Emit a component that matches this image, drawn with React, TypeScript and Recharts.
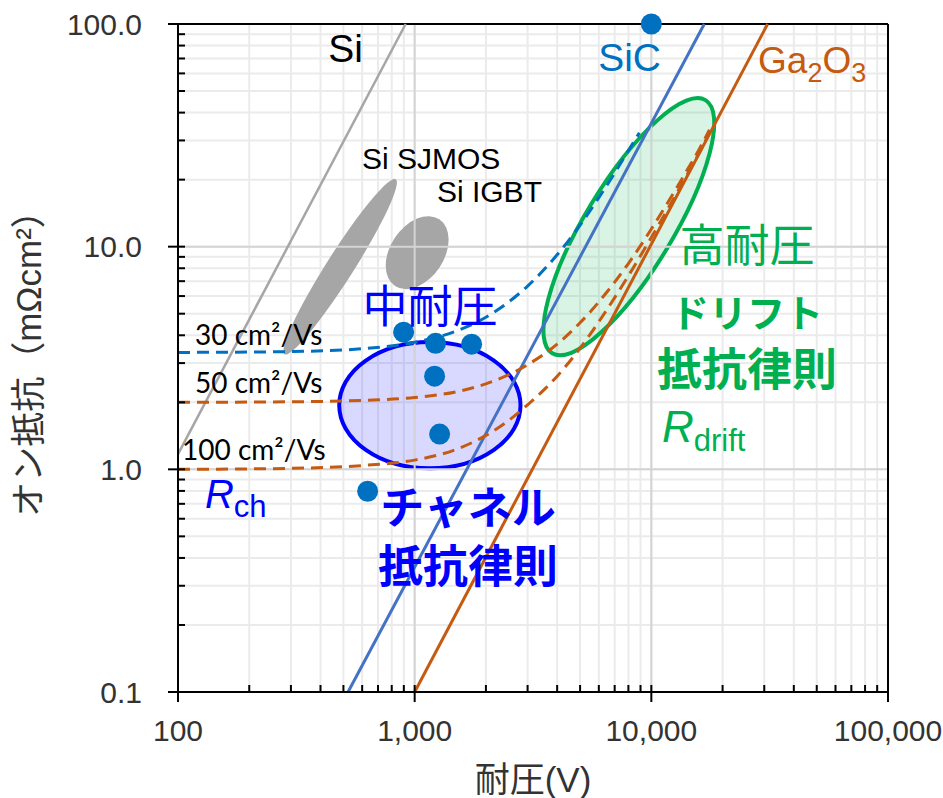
import React from 'react';
import {
  ComposedChart,
  Line,
  Scatter,
  XAxis,
  YAxis,
  CartesianGrid,
  ReferenceLine,
  ReferenceArea,
  ReferenceDot,
} from 'recharts';

// axis ticks (log decades with minor steps)
const xTicks = [
  100, 200, 300, 400, 500, 600, 700, 800, 900,
  1000, 2000, 3000, 4000, 5000, 6000, 7000, 8000, 9000,
  10000, 20000, 30000, 40000, 50000, 60000, 70000, 80000, 90000,
  100000,
];
const yTicks = [
  0.1, 0.2, 0.3, 0.4, 0.5, 0.6, 0.7, 0.8, 0.9,
  1, 2, 3, 4, 5, 6, 7, 8, 9,
  10, 20, 30, 40, 50, 60, 70, 80, 90,
  100,
];
const xMajor = [100, 1000, 10000, 100000];
const yMajor = [0.1, 1, 10, 100];
const yTickLabels = ['0.1', '1.0', '10.0', '100.0'];

// material limit lines (breakdown voltage V, on-resistance mΩcm²)
const siV = [100, 916];
const siR = [1.17, 100];
const sicV = [523, 16740];
const sicR = [0.1, 100];
const gaV = [1000, 31000];
const gaR = [0.1, 100];

// channel + drift curves
const mu30V = [100, 300, 600, 1000, 1500, 2000, 2500, 3000, 4000, 5000, 6000, 7000, 8000, 8900];
const mu30R = [3.35, 3.38, 3.48, 3.72, 4.18, 4.82, 5.65, 6.65, 9.2, 12.5, 16.6, 21.4, 27, 32.5];
const mu50V = [100, 300, 600, 1000, 1500, 2000, 2500, 3000, 4000, 5000, 6000, 8000, 10000, 12000, 14000, 16000, 17600];
const mu50R = [2.0, 2.01, 2.04, 2.1, 2.23, 2.42, 2.66, 2.95, 3.65, 4.55, 5.65, 8.4, 12, 16.4, 21.6, 27.6, 33.5];
const mu100V = [100, 300, 600, 1000, 1500, 2000, 2500, 3000, 4000, 5000, 6000, 8000, 10000, 12000, 14000, 16000, 17600];
const mu100R = [1.0, 1.01, 1.04, 1.1, 1.23, 1.42, 1.66, 1.95, 2.62, 3.5, 4.6, 7.4, 11, 15.4, 20.6, 26.6, 32.5];

// reported devices
const devV = [10000, 898, 1226, 1740, 1214, 1275, 633];
const devR = [100, 4.13, 3.68, 3.65, 2.62, 1.44, 0.797];

// regions: [V1, R1, V2, R2]
const sjmosBox = [282, 3.29, 832, 20.1];
const igbtBox = [826, 6.66, 1271, 13.27];
const midBox = [480, 1.01, 2800, 3.73];
const highBox = [3810, 3.32, 16940, 45.5];

// annotation anchors [V, R]
const posSi = [431, 67.5];
const posSJ = [599, 22.3];
const posIGBT = [1242, 15.9];
const posSiC = [5960, 61.5];
const posGa = [28240, 60.2];
const posMid = [1161, 5.58];
const posHigh1 = [25350, 10.4];
const posHigh2 = [25350, 5.19];
const posHigh3 = [25350, 2.91];
const posRdrift = [11090, 1.33];
const posCh1 = [1679, 0.691];
const posCh2 = [1679, 0.376];
const posRch = [130, 0.67];
const pos30 = [118, 3.62];
const pos50 = [118, 2.2];
const pos100 = [104, 1.1];

const toPts = (vs: number[], rs: number[]) => vs.map((v, i) => ({ v, r: rs[i] }));

const SANS = "'Liberation Sans', Arial, sans-serif";
const CJK = "'Noto Sans CJK JP', 'Noto Sans CJK SC', sans-serif";
const MIXED = "'Liberation Sans', Arial, 'Noto Sans CJK JP', sans-serif";
const NOTE = "Lato, 'Noto Sans', sans-serif";

const BLUE = '#0000FF';
const GREEN = '#00B050';
const DOT = '#0070C0';
const ORANGE = '#C55A11';

const XTick = (props: any) => {
  const { x, y, payload } = props;
  const v = payload.value;
  const major = xMajor.includes(v);
  return (
    <g>
      <line x1={x} x2={x} y1={y - 7} y2={major ? y + 10 : y} stroke="#000" strokeWidth={2} />
      {major && (
        <text x={x} y={y + 38} textAnchor="middle" dominantBaseline="central" fontSize={30} fontFamily={SANS} fill="#333">
          {v.toLocaleString('en-US')}
        </text>
      )}
    </g>
  );
};

const YTick = (props: any) => {
  const { x, y, payload } = props;
  const v = payload.value;
  const idx = yMajor.indexOf(v);
  return (
    <g>
      <line x1={idx >= 0 ? x - 10 : x} x2={x + 7} y1={y} y2={y} stroke="#000" strokeWidth={2} />
      {idx >= 0 && (
        <text x={x - 36} y={y} textAnchor="end" dominantBaseline="central" fontSize={30} fontFamily={SANS} fill="#333">
          {yTickLabels[idx]}
        </text>
      )}
    </g>
  );
};

const ellipseShape = (tilted: boolean, ratio: number, fill: string, fillOpacity: number, stroke: string, sw: number) =>
  (p: any) => {
    const { x, y, width, height } = p;
    const cx = x + width / 2;
    const cy = y + height / 2;
    if (!tilted) {
      return (
        <ellipse cx={cx} cy={cy} rx={Math.abs(width) / 2} ry={Math.abs(height) / 2}
          fill={fill} fillOpacity={fillOpacity} stroke={stroke} strokeWidth={sw} />
      );
    }
    const a = Math.hypot(width, height) / 2;
    const ang = (-Math.atan2(Math.abs(height), Math.abs(width)) * 180) / Math.PI;
    return (
      <ellipse cx={cx} cy={cy} rx={a} ry={a * ratio} transform={`rotate(${ang} ${cx} ${cy})`}
        fill={fill} fillOpacity={fillOpacity} stroke={stroke} strokeWidth={sw} />
    );
  };

const note = (key: string, pos: number[], render: (x: number, y: number) => React.ReactElement) => (
  <ReferenceDot key={key} x={pos[0]} y={pos[1]} r={0} shape={(p: any) => render(p.cx, p.cy)} />
);

export default function App() {
  return (
    <div style={{ width: 943, height: 798, background: '#fff' }}>
      <style>{'body{margin:0;}'}</style>
      <ComposedChart width={943} height={798} margin={{ top: 24, right: 55, left: 0, bottom: 0 }}>
        <CartesianGrid stroke="#EBEBEB" strokeWidth={2} />
        <XAxis
          dataKey="v"
          type="number"
          scale="log"
          domain={[100, 100000]}
          ticks={xTicks}
          interval={0}
          height={106}
          tickSize={0}
          tickMargin={0}
          tickLine={false}
          tick={<XTick />}
          axisLine={{ stroke: '#000', strokeWidth: 2 }}
        />
        <YAxis
          dataKey="r"
          type="number"
          scale="log"
          domain={[0.1, 100]}
          ticks={yTicks}
          interval={0}
          width={178}
          tickSize={0}
          tickMargin={0}
          tickLine={false}
          tick={<YTick />}
          axisLine={{ stroke: '#000', strokeWidth: 2 }}
        />
        <ReferenceLine x={1000} stroke="#D4D4D4" strokeWidth={2} />
        <ReferenceLine x={10000} stroke="#D4D4D4" strokeWidth={2} />
        <ReferenceLine y={1} stroke="#D4D4D4" strokeWidth={2} />
        <ReferenceLine y={10} stroke="#D4D4D4" strokeWidth={2} />
        <ReferenceLine y={100} stroke="#000" strokeWidth={2} />
        <ReferenceLine x={100000} stroke="#000" strokeWidth={2} />

        <ReferenceArea x1={sjmosBox[0]} y1={sjmosBox[1]} x2={sjmosBox[2]} y2={sjmosBox[3]}
          shape={ellipseShape(true, 0.13, '#A6A6A6', 1, 'none', 0)} />
        <ReferenceArea x1={igbtBox[0]} y1={igbtBox[1]} x2={igbtBox[2]} y2={igbtBox[3]}
          shape={ellipseShape(true, 0.67, '#A6A6A6', 1, 'none', 0)} />

        <Line data={toPts(siV, siR)} dataKey="r" stroke="#A6A6A6" strokeWidth={2.5} dot={false} activeDot={false} isAnimationActive={false} />
        <Line data={toPts(sicV, sicR)} dataKey="r" stroke="#4472C4" strokeWidth={3} dot={false} activeDot={false} isAnimationActive={false} />
        <Line data={toPts(gaV, gaR)} dataKey="r" stroke={ORANGE} strokeWidth={3} dot={false} activeDot={false} isAnimationActive={false} />
        <Line data={toPts(mu30V, mu30R)} dataKey="r" type="monotone" stroke={DOT} strokeWidth={3} strokeDasharray="12 7" dot={false} activeDot={false} isAnimationActive={false} />
        <Line data={toPts(mu50V, mu50R)} dataKey="r" type="monotone" stroke={ORANGE} strokeWidth={3} strokeDasharray="12 7" dot={false} activeDot={false} isAnimationActive={false} />
        <Line data={toPts(mu100V, mu100R)} dataKey="r" type="monotone" stroke={ORANGE} strokeWidth={3} strokeDasharray="12 7" dot={false} activeDot={false} isAnimationActive={false} />

        <ReferenceArea x1={midBox[0]} y1={midBox[1]} x2={midBox[2]} y2={midBox[3]}
          shape={ellipseShape(false, 1, BLUE, 0.15, BLUE, 4)} />
        <ReferenceArea x1={highBox[0]} y1={highBox[1]} x2={highBox[2]} y2={highBox[3]}
          shape={ellipseShape(true, 0.297, GREEN, 0.15, GREEN, 4)} />

        <Scatter
          data={toPts(devV, devR)}
          isAnimationActive={false}
          shape={(p: any) => <circle cx={p.cx} cy={p.cy} r={10.5} fill={DOT} />}
        />

        {note('si', posSi, (x, y) => (
          <text x={x} y={y} fontSize={39} fontFamily={SANS} fill="#000">Si</text>
        ))}
        {note('sj', posSJ, (x, y) => (
          <text x={x} y={y} fontSize={30} fontFamily={SANS} fill="#000">Si SJMOS</text>
        ))}
        {note('igbt', posIGBT, (x, y) => (
          <text x={x} y={y} fontSize={30} fontFamily={SANS} fill="#000">Si IGBT</text>
        ))}
        {note('sic', posSiC, (x, y) => (
          <text x={x} y={y} fontSize={39} fontFamily={SANS} fill={DOT}>SiC</text>
        ))}
        {note('ga', posGa, (x, y) => (
          <text x={x} y={y} fontSize={37} fontFamily={SANS} fill={ORANGE}>
            Ga<tspan fontSize={27} dy={9}>2</tspan><tspan dy={-9}>O</tspan><tspan fontSize={27} dy={9}>3</tspan>
          </text>
        ))}
        {note('mid', posMid, (x, y) => (
          <text x={x} y={y} textAnchor="middle" dominantBaseline="central" fontSize={45} fontFamily={CJK} fill={BLUE}>中耐圧</text>
        ))}
        {note('h1', posHigh1, (x, y) => (
          <text x={x} y={y} textAnchor="middle" dominantBaseline="central" fontSize={45} fontFamily={CJK} fill={GREEN}>高耐圧</text>
        ))}
        {note('h2', posHigh2, (x, y) => (
          <text x={x} y={y} textAnchor="middle" dominantBaseline="central" fontSize={38} fontWeight={700} fontFamily={CJK} fill={GREEN}>ドリフト</text>
        ))}
        {note('h3', posHigh3, (x, y) => (
          <text x={x} y={y} textAnchor="middle" dominantBaseline="central" fontSize={45} fontWeight={700} fontFamily={CJK} fill={GREEN}>抵抗律則</text>
        ))}
        {note('rd', posRdrift, (x, y) => (
          <text x={x} y={y} fontSize={44} fontFamily={SANS} fill={GREEN}>
            <tspan fontStyle="italic">R</tspan><tspan fontSize={31} dy={9}>drift</tspan>
          </text>
        ))}
        {note('c1', posCh1, (x, y) => (
          <text x={x} y={y} textAnchor="middle" dominantBaseline="central" fontSize={44} fontWeight={700} fontFamily={CJK} fill={BLUE}>チャネル</text>
        ))}
        {note('c2', posCh2, (x, y) => (
          <text x={x} y={y} textAnchor="middle" dominantBaseline="central" fontSize={45} fontWeight={700} fontFamily={CJK} fill={BLUE}>抵抗律則</text>
        ))}
        {note('rch', posRch, (x, y) => (
          <text x={x} y={y} fontSize={40} fontFamily={SANS} fill={BLUE}>
            <tspan fontStyle="italic">R</tspan><tspan fontSize={31} dy={9}>ch</tspan>
          </text>
        ))}
        {note('m30', pos30, (x, y) => (
          <text x={x} y={y} fontSize={28} fontFamily={NOTE} fill="#000">30 cm²/Vs</text>
        ))}
        {note('m50', pos50, (x, y) => (
          <text x={x} y={y} fontSize={28} fontFamily={NOTE} fill="#000">50 cm²/Vs</text>
        ))}
        {note('m100', pos100, (x, y) => (
          <text x={x} y={y} fontSize={28} fontFamily={NOTE} fill="#000">100 cm²/Vs</text>
        ))}
      </ComposedChart>
      <svg width={943} height={798} style={{ position: 'absolute', left: 0, top: 0, pointerEvents: 'none' }}>
        <text x={533} y={779} textAnchor="middle" dominantBaseline="central" fontSize={35} fontFamily={MIXED} fill="#333">耐圧(V)</text>
        <text x={28} y={355} transform="rotate(-90 28 355)" textAnchor="middle" dominantBaseline="central" fontSize={35} fontFamily={MIXED} fill="#333">
          オン抵抗（mΩcm²）
        </text>
      </svg>
    </div>
  );
}
